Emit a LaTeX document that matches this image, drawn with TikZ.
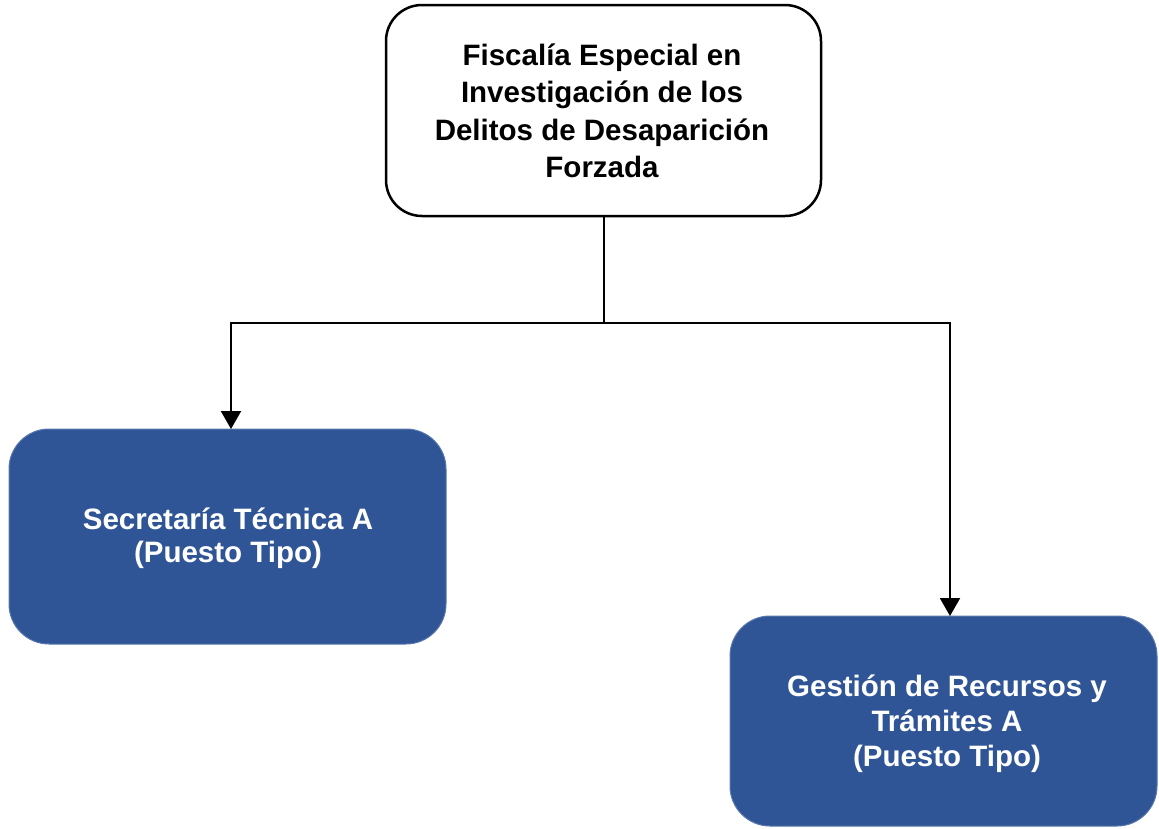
\documentclass[tikz,border=0pt]{standalone}
\usepackage{fontspec}
\setmainfont{Liberation Sans}
\usetikzlibrary{arrows.meta}
\definecolor{boxblue}{RGB}{47,85,151}
\tikzset{
  topbox/.style={draw=black, line width=2.5pt, rounded corners=36pt, fill=white},
  bluebox/.style={fill=boxblue, draw=boxblue!80!white, line width=1pt, rounded corners=40pt},
  conn/.style={draw=black, line width=2pt},
  arr/.style={conn, -{Triangle[width=20pt,length=18pt]}},
  ttext/.style={font=\fontsize{29.5}{37.5}\selectfont\bfseries, align=center, text=black},
  wtext/.style={font=\fontsize{29.5}{35}\selectfont\bfseries, align=center, text=white}
}
\begin{document}
\begin{tikzpicture}[x=1pt,y=-1pt]
\useasboundingbox (0,0) rectangle (1159,828);
\draw[topbox] (386,5) rectangle (821,216);
\node[ttext] (top) at (602,111) {Fiscalía Especial en\\Investigación de los\\Delitos de Desaparición\\Forzada};
\coordinate (topb) at (603.5,216);
\draw[bluebox] (9,429) rectangle (446,644);
\node[wtext, font=\fontsize{29.5}{33}\selectfont\bfseries] (sec) at (228,538) {Secretaría Técnica A\\(Puesto Tipo)};
\coordinate (sect) at (231,429);
\draw[bluebox] (730,616) rectangle (1157,826);
\node[wtext] (ges) at (947,724) {Gestión de Recursos y\\Trámites A\\(Puesto Tipo)};
\coordinate (gest) at (950,616);
\coordinate (mid) at (603.5,323);
\draw[conn] (topb) -- (mid);
\draw[arr] (mid) -| (sect);
\draw[arr] (mid) -| (gest);
\end{tikzpicture}
\end{document}
